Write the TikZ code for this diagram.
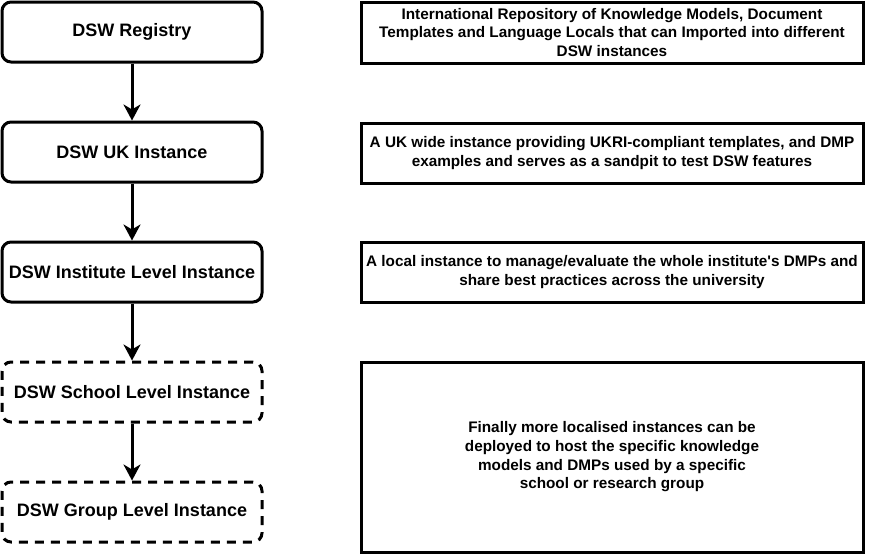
\documentclass[tikz,border=0pt]{standalone}
\usepackage{fontspec}
\setmainfont{Liberation Sans}
\newfontfamily\lsans{Liberation Sans}
\usetikzlibrary{arrows.meta}
\begin{document}
\begin{tikzpicture}[x=1pt,y=-1pt,
  lbox/.style={draw, line width=3pt, rounded corners=9pt, minimum width=260pt, minimum height=60pt, inner sep=0pt, align=center, font=\lsans\fontsize{18}{21}\selectfont\bfseries},
  lboxdash/.style={lbox, dash pattern=on 9pt off 7pt},
  rbox/.style={draw, line width=3pt, minimum width=502pt, inner sep=0pt, align=center, font=\lsans\fontsize{15.3}{18.7}\selectfont\bfseries},
  conn/.style={line width=3pt, -{Stealth[length=16pt,width=17pt,inset=5pt]}}
]
\useasboundingbox (0,0) rectangle (894,554);
\node[lbox] (reg) at (132,32) {DSW Registry};
\node[lbox] (uk) at (132,152) {DSW UK Instance};
\node[lbox] (inst) at (132,272) {DSW Institute Level Instance};
\node[lboxdash] (school) at (132,392) {DSW School Level Instance};
\node[lboxdash] (group) at (132,512) {DSW Group Level Instance};

\draw[conn] (reg) -- (uk);
\draw[conn] (uk) -- (inst);
\draw[conn] (inst) -- (school);
\draw[conn] (school) -- (group);

\node[rbox, minimum height=61pt] (da) at (612,32.5) {International Repository of Knowledge Models, Document\\Templates and Language Locals that can Imported into different\\DSW instances};
\node[rbox, minimum height=60pt] (db) at (612,153) {A UK wide instance providing UKRI-compliant templates, and DMP\\examples and serves as a sandpit to test DSW features};
\node[rbox, minimum height=60pt] (dc) at (612,272) {A local instance to manage/evaluate the whole institute's DMPs and\\share best practices across the university};
\node[rbox, minimum height=190pt] (dd) at (612,457) {Finally more localised instances can be\\deployed to host the specific knowledge\\models and DMPs used by a specific\\school or research group};
\end{tikzpicture}
\end{document}
